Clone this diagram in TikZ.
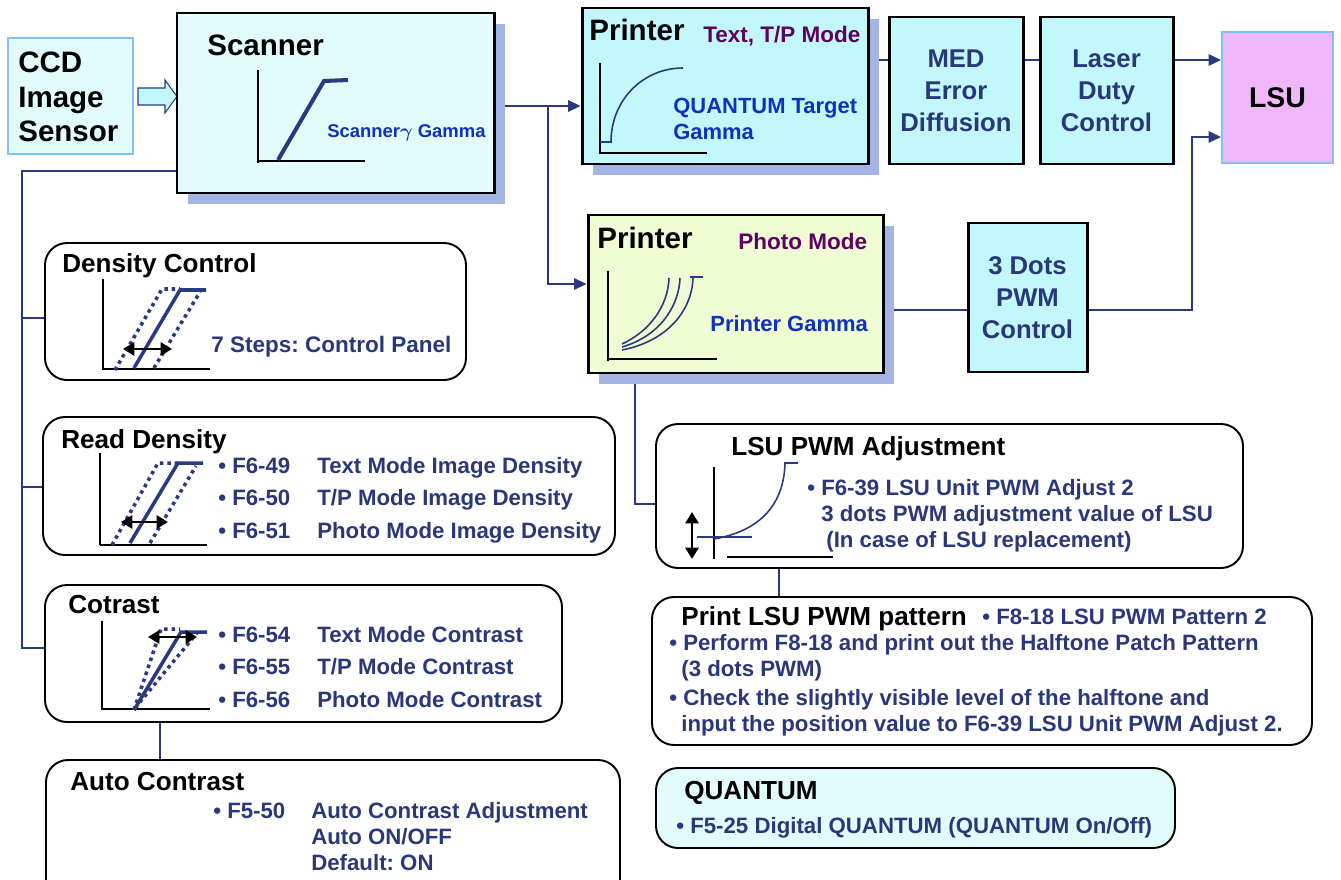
\documentclass[tikz,border=0pt]{standalone}
\usepackage{fontspec}
\setmainfont{Liberation Sans}
\usetikzlibrary{arrows.meta,shadows,fit,backgrounds}

\definecolor{navy}{RGB}{42,58,128}
\definecolor{itemblue}{RGB}{40,56,122}
\definecolor{brightblue}{RGB}{16,48,192}
\definecolor{modepurple}{RGB}{96,0,96}
\definecolor{shadowblue}{RGB}{164,180,228}
\definecolor{cyanfill}{RGB}{194,248,252}
\definecolor{palecyan}{RGB}{226,252,252}
\definecolor{paleyellow}{RGB}{240,252,212}
\definecolor{lsupink}{RGB}{240,184,252}
\definecolor{skyline}{RGB}{130,192,248}

\newcommand{\fBig}{\fontsize{16.8}{19.6}\selectfont\bfseries}
\newcommand{\fLsu}{\fontsize{16.2}{19}\selectfont\bfseries}
\newcommand{\fBox}{\fontsize{14.6}{18.1}\selectfont\bfseries}
\newcommand{\fTitle}{\fontsize{14.85}{17}\selectfont\bfseries}
\newcommand{\fMode}{\fontsize{12.8}{15}\selectfont\bfseries}
\newcommand{\fGam}{\fontsize{12.5}{15.3}\selectfont\bfseries}
\newcommand{\fItem}{\fontsize{12.65}{18.7}\selectfont\bfseries}
\newcommand{\fNote}{\fontsize{12.65}{14.8}\selectfont\bfseries}
\newcommand{\fSmall}{\fontsize{10.5}{12}\selectfont\bfseries}
\newcommand{\stack}[1]{\begin{tabular}[t]{@{}l@{}}#1\end{tabular}}
\frenchspacing

\begin{document}
\begin{tikzpicture}[x=0.02cm,y=-0.02cm,
  blk/.style={draw=black, line width=1.7pt, inner sep=0pt},
  shd/.style={drop shadow={shadow xshift=0.22cm, shadow yshift=-0.22cm, fill=shadowblue, opacity=1}},
  rbox/.style={draw=black, line width=1.1pt, rounded corners=0.44cm, inner sep=0pt},
  conn/.style={draw=navy, line width=0.9pt},
  arr/.style={conn, -{Triangle[length=7pt,width=6.5pt]}},
  axis/.style={draw=black, line width=0.7pt},
  gline/.style={draw=navy, line width=2pt},
  thinline/.style={draw=navy, line width=0.9pt},
  dotline/.style={draw=navy, line width=2pt, dash pattern=on 2pt off 2.2pt},
  dblarr/.style={draw=black, line width=1.5pt, {Triangle[length=6.5pt,width=7.5pt]}-{Triangle[length=6.5pt,width=7.5pt]}},
  txt/.style={anchor=base west, inner sep=0pt}]
\useasboundingbox (0,0) rectangle (1341,879);

% top row
\node[fit={(8,38) (133,154)}, draw=skyline, line width=1.2pt, fill=palecyan, inner sep=0pt] (ccd) {};
\node[anchor=west, align=left, font=\fBig, inner sep=0pt] (ccdtxt) at (18,97) {CCD\\Image\\Sensor};
\draw[navy, fill=cyanfill, line width=0.6pt] (138,88) -- (165,88) -- (165,80) -- (177,96.5) -- (165,113) -- (165,105) -- (138,105) -- cycle;

\node[blk, shd, fill=palecyan, fit={(177,13) (494,193)}] (scan) {};
\node[txt, font=\fBig] (scantitle) at (207,55) {Scanner};
\node[txt, font=\fSmall, text=brightblue] (scangam) at (327,137) {Scanner{\boldmath$\gamma$} Gamma};
\draw[axis] (258,70) -- (258,163);
\draw[axis] (258,161) -- (365,161);
\draw[gline, line width=2.3pt] (278,160) -- (324,81) -- (348,80);

\node[blk, shd, fill=cyanfill, fit={(582,8) (868,164)}] (p1) {};
\node[txt, font=\fBig] (p1title) at (589,40) {Printer};
\node[txt, font=\fMode, text=modepurple] (p1mode) at (703,42) {Text, T/P Mode};
\node[txt, font=\fGam, text=brightblue] (p1gam) at (673,113) {\stack{QUANTUM Target\\Gamma}};
\draw[axis] (600,63) -- (600,154);
\draw[axis] (600,153) -- (707,153);
\draw[thinline] (600,142) -- (612,142);
\draw[thinline] (611,142) .. controls (611,100) and (643,68) .. (683,68);

\node[blk, fill=cyanfill, fit={(889,17) (1023,164)}] (med) {};
\node[font=\fBox, text=itemblue, align=center] (medtxt) at (med.center) {MED\\Error\\Diffusion};
\node[blk, fill=cyanfill, fit={(1040,17) (1173,164)}] (laser) {};
\node[font=\fBox, text=itemblue, align=center] (lasertxt) at (laser.center) {Laser\\Duty\\Control};
\node[fit={(1222,32) (1333,163)}, draw=skyline, line width=1.2pt, fill=lsupink, inner sep=0pt] (lsu) {};
\node[font=\fLsu] (lsutxt) at (lsu.center) {LSU};

% photo mode row
\node[blk, shd, fill=paleyellow, fit={(588,215) (883,373)}] (p2) {};
\node[txt, font=\fBig] (p2title) at (597,248) {Printer};
\node[txt, font=\fMode, text=modepurple] (p2mode) at (738,249) {Photo Mode};
\node[txt, font=\fGam, text=brightblue] (p2gam) at (710,331) {Printer Gamma};
\draw[axis] (608,271) -- (608,361);
\draw[axis] (608,359) -- (717,359);
\draw[thinline] (622,344) .. controls (650,331) and (668,306) .. (669,278);
\draw[thinline] (622,347) .. controls (660,336) and (679,306) .. (680,278);
\draw[thinline] (622,350) .. controls (668,341) and (692,310) .. (693,278);
\draw[thinline] (690,277) -- (703,277);

\node[blk, fill=cyanfill, fit={(968,223) (1087,372)}] (dots) {};
\node[font=\fBox, text=itemblue, align=center] (dotstxt) at (dots.center) {3 Dots\\PWM\\Control};

% left column
\node[rbox, fit={(45,243) (466,380)}] (density) {};
\node[txt, font=\fTitle] (dentitle) at (62,272) {Density Control};
\node[txt, font=\fMode, text=itemblue] (dentxt) at (211,352) {7 Steps: Control Panel};
\draw[axis] (103,279) -- (103,370);
\draw[axis] (103,369) -- (210,369);
\draw[dotline] (115,370) -- (162,289) -- (180,289);
\draw[dotline] (154,368) -- (200,292);
\draw[gline] (134,368) -- (180,290) -- (206,290);
\draw[dblarr] (123,349) -- (172,349);

\node[rbox, fit={(43,417) (615,555)}] (read) {};
\node[txt, font=\fTitle] (readtitle) at (61,448) {Read Density};
\node[txt, font=\fItem, text=itemblue] (readlist) at (218,473) {\begin{tabular}[t]{@{}p{1.98cm}@{}l@{}}
• F6-49 & Text Mode Image Density\\
• F6-50 & T/P Mode Image Density\\
• F6-51 & Photo Mode Image Density\end{tabular}};
\draw[axis] (100,453) -- (100,545);
\draw[axis] (100,545) -- (207,545);
\draw[dotline] (112,545) -- (158,463) -- (178,463);
\draw[dotline] (150,543) -- (196,466);
\draw[gline] (130,543) -- (178,463) -- (203,463);
\draw[dblarr] (121,522) -- (168,522);

\node[rbox, fit={(45,585) (562,722)}] (contrast) {};
\node[txt, font=\fTitle] (contitle) at (68,613) {Cotrast};
\node[txt, font=\fItem, text=itemblue] (conlist) at (218,642) {\begin{tabular}[t]{@{}p{1.98cm}@{}l@{}}
• F6-54 & Text Mode Contrast\\
• F6-55 & T/P Mode Contrast\\
• F6-56 & Photo Mode Contrast\end{tabular}};
\draw[axis] (102,621) -- (102,710);
\draw[axis] (102,709) -- (210,709);
\draw[dotline] (134,710) -- (161,629) -- (180,629);
\draw[dotline] (135,708) -- (197,633);
\draw[gline] (134,710) -- (181,632) -- (207,632);
\draw[dblarr] (148,637) -- (197,637);

\node[rbox, fit={(46,760) (620,905)}] (auto) {};
\node[txt, font=\fTitle] (autotitle) at (70,790) {Auto Contrast};
\node[txt, font=\fNote, text=itemblue] (autolist) at (213,818) {\begin{tabular}[t]{@{}p{1.96cm}@{}l@{}}
• F5-50 & Auto Contrast Adjustment\\
 & Auto ON/OFF\\
 & Default: ON\end{tabular}};

% right column
\node[rbox, fit={(656,424) (1243,568)}] (lsuadj) {};
\node[txt, font=\fTitle] (adjtitle) at (731,455) {LSU PWM Adjustment};
\node[txt, font=\fNote, text=itemblue] (adjlist) at (807,495) {\stack{• F6-39 LSU Unit PWM Adjust 2\\
\hspace{0.28cm}3 dots PWM adjustment value of LSU\\
\hspace{0.38cm}(In case of LSU replacement)}};
\draw[axis] (714,467) -- (714,559);
\draw[axis] (727,557) -- (833,557);
\draw[thinline] (697,537) -- (752,537);
\draw[thinline] (714,539) .. controls (765,530) and (784,500) .. (785,463) -- (798,463);
\draw[dblarr] (692,512) -- (692,559);

\node[rbox, fit={(652,597) (1312,745)}] (print) {};
\node[txt, font=\fTitle] (printtitle) at (681,625) {Print LSU PWM pattern};
\node[txt, font=\fNote, text=itemblue] (printcode) at (982,624) {• F8-18 LSU PWM Pattern 2};
\node[txt, font=\fNote, text=itemblue] (printlist) at (669,650) {\stack{• Perform F8-18 and print out the Halftone Patch Pattern\\
\hspace{0.24cm}(3 dots PWM)\\[1.7pt]
• Check the slightly visible level of the halftone and\\
\hspace{0.24cm}input the position value to F6-39 LSU Unit PWM Adjust 2.}};

\node[rbox, fill=palecyan, fit={(656,768) (1175,848)}] (quantum) {};
\node[txt, font=\fTitle] (qtitle) at (684,799) {QUANTUM};
\node[txt, font=\fNote, text=itemblue] (qitem) at (676,833) {• F5-25 Digital QUANTUM (QUANTUM On/Off)};

% connectors
\coordinate (split) at (548,106);
\coordinate (p2in) at (548,284);
\coordinate (toprow) at (0,60);
\coordinate (dotrow) at (0,310);
\coordinate (lsuin) at (1192,137);
\coordinate (bus) at (22,171);
\coordinate (bDen) at (22,318);
\coordinate (bRead) at (22,487);
\coordinate (busend) at (22,648);
\coordinate (cDown) at (160,0);
\coordinate (pDown) at (635,504);
\coordinate (aDown) at (779,0);
\begin{scope}[on background layer]
\draw[conn] (scan.east |- split) -- (split);
\draw[arr] (split) -- (p1.west |- split);
\draw[arr] (split) -- (p2in) -- (p2.west |- p2in);
\draw[conn] (p1.east |- toprow) -- (med.west |- toprow);
\draw[conn] (med.east |- toprow) -- (laser.west |- toprow);
\draw[arr] (laser.east |- toprow) -- (lsu.west |- toprow);
\draw[conn] (p2.east |- dotrow) -- (dots.west |- dotrow);
\draw[arr] (dots.east |- dotrow) -| (lsuin) -- (lsu.west |- lsuin);
\draw[conn] (scan.west |- bus) -- (bus) -- (busend) -- (contrast.west |- busend);
\draw[conn] (bDen) -- (density.west |- bDen);
\draw[conn] (bRead) -- (read.west |- bRead);
\draw[conn] (contrast.south -| cDown) -- (auto.north -| cDown);
\draw[conn] (p2.south -| pDown) -- (pDown) -- (lsuadj.west |- pDown);
\draw[conn] (lsuadj.south -| aDown) -- (print.north -| aDown);
\end{scope}
\end{tikzpicture}
\end{document}
